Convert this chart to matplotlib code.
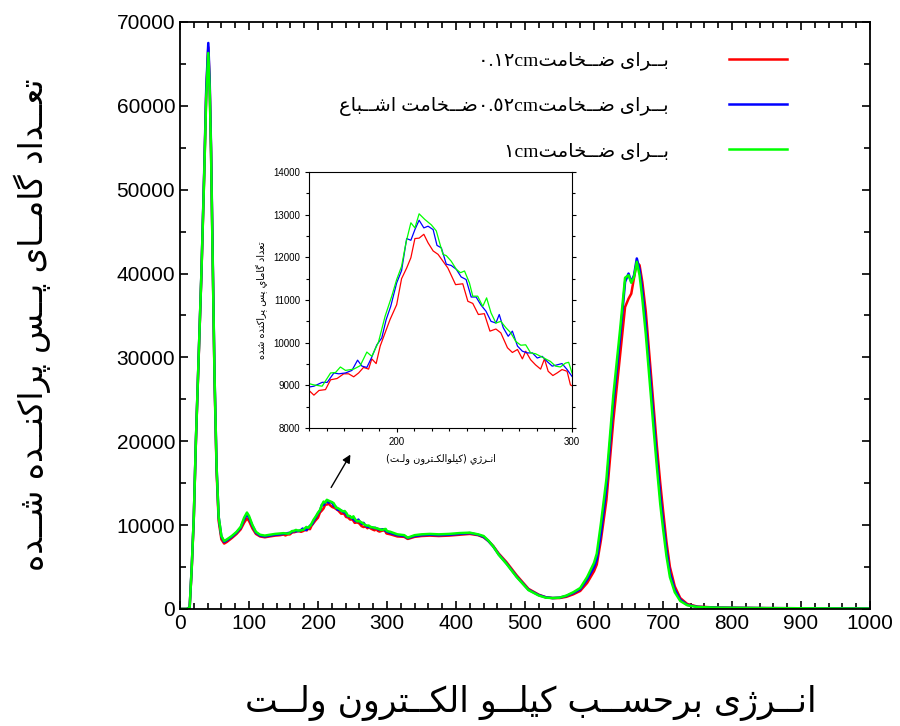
import numpy as np
import matplotlib.pyplot as plt
from matplotlib.lines import Line2D

# --- crude Arabic/Persian shaping (matplotlib does no shaping / bidi) ---
FORMS = {
    'ا': ('\uFE8D', '\uFE8E'), 'د': ('\uFEA9', '\uFEAA'), 'ر': ('\uFEAD', '\uFEAE'),
    'ژ': ('\uFB8A', '\uFB8B'), 'و': ('\uFEED', '\uFEEE'), 'ز': ('\uFEAF', '\uFEB0'),
    'ب': ('\uFE8F', '\uFE90', '\uFE91', '\uFE92'), 'پ': ('\uFB56', '\uFB57', '\uFB58', '\uFB59'),
    'ت': ('\uFE95', '\uFE96', '\uFE97', '\uFE98'), 'ح': ('\uFEA1', '\uFEA2', '\uFEA3', '\uFEA4'),
    'خ': ('\uFEA5', '\uFEA6', '\uFEA7', '\uFEA8'), 'س': ('\uFEB1', '\uFEB2', '\uFEB3', '\uFEB4'),
    'ش': ('\uFEB5', '\uFEB6', '\uFEB7', '\uFEB8'), 'ض': ('\uFEBD', '\uFEBE', '\uFEBF', '\uFEC0'),
    'ع': ('\uFEC9', '\uFECA', '\uFECB', '\uFECC'), 'ک': ('\uFB8E', '\uFB8F', '\uFB90', '\uFB91'),
    'ك': ('\uFED9', '\uFEDA', '\uFEDB', '\uFEDC'), 'گ': ('\uFB92', '\uFB93', '\uFB94', '\uFB95'),
    'ل': ('\uFEDD', '\uFEDE', '\uFEDF', '\uFEE0'), 'م': ('\uFEE1', '\uFEE2', '\uFEE3', '\uFEE4'),
    'ن': ('\uFEE5', '\uFEE6', '\uFEE7', '\uFEE8'), 'ه': ('\uFEE9', '\uFEEA', '\uFEEB', '\uFEEC'),
    'ی': ('\uFBFC', '\uFBFD', '\uFBFE', '\uFBFF'), 'ي': ('\uFEF1', '\uFEF2', '\uFEF3', '\uFEF4'),
    'ـ': ('ـ', 'ـ', 'ـ', 'ـ'),
}


def rtl(text):
    out = []
    for i, ch in enumerate(text):
        if ch not in FORMS:
            out.append(ch)
            continue
        f = FORMS[ch]
        prev = text[i - 1] if i > 0 else None
        nxt = text[i + 1] if i + 1 < len(text) else None
        jp = prev in FORMS and len(FORMS[prev]) == 4
        jn = len(f) == 4 and nxt in FORMS
        if jp and jn:
            out.append(f[3])
        elif jp:
            out.append(f[1])
        elif jn:
            out.append(f[2])
        else:
            out.append(f[0])
    return ''.join(reversed(out))


# --- data: main spectrum, low energy part (0-150 keV) ---
x_low = [0, 10, 14, 17, 20, 23, 27, 31, 35, 38, 41, 43, 45, 47, 50, 53, 56, 60, 64, 68,
         75, 82, 88, 93, 97, 100, 105, 110, 116, 123, 130, 138, 145]
red_low = [0, 0, 200, 4800, 10800, 19800, 29800, 39800, 51500, 61500, 67000, 62500, 54500, 43500, 27500, 16500,
           10500, 8300, 7800, 8000, 8450, 8950, 9500, 10300, 10800, 10500, 9600, 8950, 8650, 8550, 8650, 8750, 8800]
blue_low = [0, 0, 200, 5000, 11000, 20000, 30000, 40000, 52000, 62000, 67500, 63000, 55000, 44000, 28000, 17000,
            11000, 8600, 8000, 8200, 8600, 9100, 9700, 10700, 11300, 10900, 9900, 9100, 8750, 8650, 8750, 8850, 8900]
green_low = [0, 0, 200, 5000, 11000, 20000, 30000, 40000, 51500, 61000, 66300, 62000, 54500, 43500, 28000, 17000,
             11000, 8700, 8100, 8300, 8700, 9200, 9800, 10900, 11500, 11100, 10000, 9200, 8850, 8750, 8850, 8950, 9000]

# --- data: 150-300 keV ---
red_x = [150, 152.8, 155.7, 159.4, 162.3, 166, 169.8, 172.6, 175.5, 178.3, 181.1, 184, 185.8, 188.3, 190.6,
         193.4, 196.2, 200, 202.8, 205.7, 208.1, 210.4, 212.8, 215.5, 217.9, 220.8, 223.6, 226.4, 229.2, 233.6,
         237.7, 240.6, 243.4, 246.6, 250, 253.2, 256.6, 259.4, 263.2, 266, 268.9, 271.7, 273.6, 276.4, 279.2,
         282.1, 284.3, 286.4, 289.1, 291.5, 294.3, 297.2, 299.1, 300]
red_y = [8880, 8770, 8880, 8900, 9130, 9160, 9270, 9270, 9200, 9290, 9420, 9380, 9620, 9510, 9920, 10230, 10540,
         10890, 11500, 11750, 11990, 12440, 12450, 12540, 12340, 12150, 12070, 11910, 11750, 11360, 11380, 10970,
         10920, 10660, 10680, 10270, 10320, 10230, 9880, 9770, 9840, 9620, 9800, 9600, 9480, 9380, 9620, 9330,
         9230, 9290, 9370, 9330, 9010, 8990]
blue_x = [150, 152.8, 157.5, 160.4, 164.2, 167, 170.8, 174.5, 177.7, 180.2, 183, 185.8, 188.7, 191.5, 194, 196.6,
          200, 202.8, 205.7, 208.1, 210.4, 212.8, 215.5, 217.9, 220.8, 223, 225.5, 228.3, 231.1, 234, 236.8, 239.6,
          242.5, 245.3, 248.1, 250.9, 253.8, 256.6, 258.5, 260.8, 263.6, 266, 268.9, 271.7, 274.5, 277.4, 280.2,
          283, 285.8, 288.7, 291.5, 294.3, 297.2, 300]
blue_y = [8960, 8980, 9070, 9070, 9290, 9270, 9290, 9350, 9590, 9450, 9420, 9660, 9950, 10110, 10540, 10850,
          11400, 11690, 12440, 12400, 12650, 12870, 12690, 12730, 12650, 12280, 12220, 11840, 11810, 11720, 11540,
          11480, 11070, 11070, 10880, 10740, 10500, 10460, 10660, 10350, 10150, 10270, 9920, 9800, 9760, 9760,
          9640, 9680, 9560, 9450, 9480, 9510, 9370, 9210]
green_x = [150, 152.8, 157.5, 162.3, 165.1, 167.9, 170.8, 175.5, 179.2, 183, 185.8, 189.6, 193.4, 197.2, 200,
           202.8, 205.3, 208.1, 210.4, 212.8, 216, 219.8, 222.6, 224.5, 226.4, 228.3, 231.1, 234, 236.4, 238.7,
           241.5, 243.4, 246.2, 249.1, 251.3, 253.8, 256.6, 259.4, 262.3, 265.1, 267.9, 270.8, 273.6, 276.4,
           279.2, 282.1, 284.9, 287.7, 290.6, 293.4, 296.2, 298.1, 300]
green_y = [9040, 9010, 8980, 9290, 9300, 9430, 9350, 9380, 9460, 9780, 9680, 10010, 10620, 11090, 11480, 11790,
           12340, 12810, 12690, 13020, 12890, 12760, 12620, 12340, 12070, 12040, 11910, 11720, 11640, 11680, 11400,
           11090, 11090, 10850, 11050, 10700, 10460, 10500, 10350, 10230, 10030, 9940, 9950, 9760, 9740, 9680,
           9620, 9560, 9450, 9430, 9520, 9540, 9290]

# --- data: main spectrum, high energy part (300-1000 keV) ---
x_high = [305, 315, 325, 330, 340, 350, 362, 375, 390, 405, 420, 432, 440, 447, 454, 462, 473, 488, 505, 520,
          530, 540, 550, 560, 570, 580, 590, 600, 604, 610, 618, 628, 638, 645, 650, 654, 658, 662, 666, 670,
          675, 681, 686, 691, 696, 700, 705, 710, 717, 725, 735, 750, 780, 850, 1000]
red_high = [8900, 8650, 8600, 8350, 8600, 8700, 8750, 8700, 8750, 8850, 8950, 8800, 8550, 8100, 7500, 6600, 5600,
            4000, 2400, 1700, 1400, 1300, 1300, 1450, 1750, 2150, 3100, 4500, 5300, 8200, 13000, 22500, 30500,
            36000, 37000, 37600, 39500, 41300, 41000, 39000, 35500, 29500, 24500, 19500, 15000, 11800, 8000,
            5000, 2700, 1300, 600, 280, 160, 100, 50]
blue_high = [9050, 8800, 8700, 8450, 8700, 8800, 8850, 8800, 8850, 8950, 9050, 8850, 8600, 8100, 7450, 6500, 5450,
             3850, 2300, 1650, 1400, 1300, 1350, 1550, 1900, 2350, 3500, 5000, 5900, 9000, 14500, 24500, 32500,
             39000, 40000, 39000, 39800, 41800, 40500, 38000, 34000, 28000, 23000, 18000, 13500, 10500, 7000,
             4300, 2300, 1100, 500, 250, 150, 100, 50]
green_high = [9200, 8900, 8800, 8500, 8800, 8900, 8950, 8900, 8950, 9050, 9100, 8900, 8700, 8150, 7450, 6450,
              5400, 3800, 2250, 1600, 1350, 1300, 1350, 1600, 2000, 2500, 3800, 5500, 6600, 10200, 15500, 25500,
              33500, 39500, 39800, 38900, 39600, 41400, 39800, 37000, 32800, 26800, 21800, 17000, 12500, 9600,
              6300, 3800, 2000, 950, 450, 230, 150, 100, 50]

labels = [
    '٠.١٢cm' + rtl('بــرای ضــخامت'),
    rtl('ضــخامت اشــباع') + '٠.٥٢cm' + rtl('بــرای ضــخامت'),
    '١cm' + rtl('بــرای ضــخامت'),
]
colors = ['#ff0000', '#0000ff', '#00ff00']

series = [
    (x_low + red_x + x_high, red_low + red_y + red_high, red_x, red_y),
    (x_low + blue_x + x_high, blue_low + blue_y + blue_high, blue_x, blue_y),
    (x_low + green_x + x_high, green_low + green_y + green_high, green_x, green_y),
]

fig = plt.figure(figsize=(9, 7.26), dpi=100)
ax = fig.add_axes([0.2, 0.1612, 0.7667, 0.8085])

for (xs, ys, _, _), c in zip(series, colors):
    ax.plot(xs, ys, color=c, lw=1.8)

ax.set_xlim(0, 1000)
ax.set_ylim(0, 70000)
ax.set_xticks(np.arange(0, 1001, 100))
ax.set_xticks(np.arange(0, 1001, 20), minor=True)
ax.set_yticks(np.arange(0, 70001, 10000))
ax.set_yticks(np.arange(0, 70001, 5000), minor=True)
ax.tick_params(axis='both', which='major', length=6, width=1.2, labelsize=15, direction='out')
ax.tick_params(axis='both', which='minor', length=4, width=1.2, direction='out')
ax.tick_params(top=True, right=True, which='both', direction='in')
for lab in ax.get_xticklabels() + ax.get_yticklabels():
    lab.set_family(['Liberation Sans', 'DejaVu Sans'])
for s in ax.spines.values():
    s.set_linewidth(1.3)

fig.text(531 / 900, 1 - 703 / 726, rtl('انــرژی برحســب کیلــو الکــترون ولــت'),
         ha='center', va='center', fontsize=25, family=['DejaVu Sans'])
fig.text(32 / 900, 1 - 325 / 726, rtl('تعــداد گامــای پــس پراکنــده شــده'),
         ha='center', va='center', rotation=90, fontsize=23.5, family=['DejaVu Sans'])

handles = [Line2D([], [], color=c, lw=1.8) for c in colors]
fig.legend(handles, labels, loc='upper right', bbox_to_anchor=(797 / 900, 1 - 42 / 726),
           frameon=False, markerfirst=False, handlelength=3.0, handletextpad=3.1,
           labelspacing=1.35, borderpad=0, prop={'family': ['Liberation Serif', 'DejaVu Sans'], 'size': 14})

# arrow pointing to the inset
ax.annotate('', xy=(249, 18700), xytext=(217, 14200),
            arrowprops=dict(arrowstyle='-|>', color='black', lw=1, mutation_scale=12))

# inset
ins = fig.add_axes([309 / 900, 1 - 428 / 726, 263 / 900, 256 / 726])
for (_, _, xs, ys), c in zip(series, colors):
    ins.plot(xs, ys, color=c, lw=0.9)
ins.set_xlim(150, 300)
ins.set_ylim(8000, 14000)
ins.set_xticks([200, 300])
ins.set_xticks(np.arange(150, 301, 10), minor=True)
ins.set_yticks(np.arange(8000, 14001, 1000))
ins.set_yticks(np.arange(8000, 14001, 500), minor=True)
ins.tick_params(which='major', length=3, width=0.8, labelsize=7, direction='out')
ins.tick_params(which='minor', length=2, width=0.8, direction='out')
ins.tick_params(right=True, which='both', direction='out')
for lab in ins.get_xticklabels() + ins.get_yticklabels():
    lab.set_family(['Liberation Sans', 'DejaVu Sans'])
for s in ins.spines.values():
    s.set_linewidth(0.8)
ins_x = rtl('انـرژي )كيلوالكـترون ولـت(')
ins.set_xlabel(ins_x, fontsize=7, family=['DejaVu Sans'], labelpad=4)
ins.set_ylabel(rtl('تعداد گاماي پس پراكنده شده'), fontsize=7, family=['DejaVu Sans'], labelpad=4)

fig.savefig('out.png', dpi=100)
